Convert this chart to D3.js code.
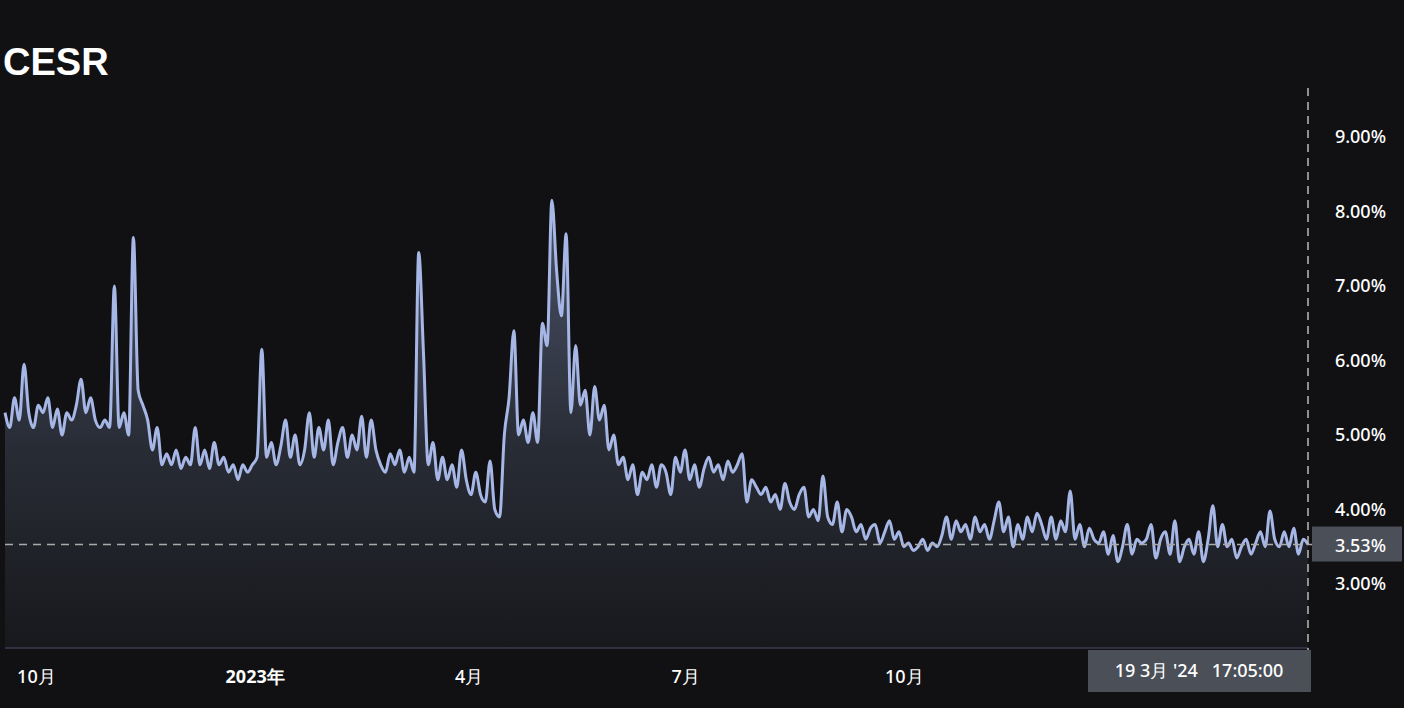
<!DOCTYPE html>
<html><head><meta charset="utf-8">
<script src="https://cdn.jsdelivr.net/npm/d3@7"></script>
<style>body{margin:0;background:#111113;}svg{display:block;}</style>
</head><body>
<svg id="chart" width="1404" height="708"></svg>
<script>
// CESR rate, one value every 2 days, ending 19 Mar 2024
const rates = [
  5.3,5.1,5.5,5.2,5.95,5.3,5.1,5.4,5.3,5.5,
  5.1,5.35,5.0,5.3,5.2,5.4,5.75,5.3,5.5,5.2,
  5.1,5.2,5.1,7.0,5.1,5.3,5.0,7.65,5.6,5.4,
  5.2,4.8,5.1,4.6,4.75,4.6,4.8,4.55,4.7,4.6,
  5.1,4.6,4.8,4.55,4.9,4.6,4.7,4.5,4.6,4.4,
  4.6,4.5,4.6,4.7,6.15,4.7,4.9,4.6,4.85,5.2,
  4.7,5.0,4.6,4.8,5.3,4.7,5.1,4.8,5.2,4.6,
  4.9,5.1,4.7,5.0,4.8,5.25,4.7,5.2,4.8,4.6,
  4.5,4.75,4.6,4.8,4.5,4.7,4.5,7.45,6.1,4.6,
  4.9,4.4,4.7,4.4,4.6,4.3,4.8,4.4,4.2,4.5,
  4.2,4.1,4.65,4.0,3.9,5.0,5.5,6.4,5.0,5.2,
  4.9,5.3,4.9,6.5,6.2,8.15,7.2,6.6,7.7,5.3,
  6.2,5.4,5.6,5.0,5.65,5.2,5.4,4.8,5.0,4.6,
  4.7,4.4,4.6,4.2,4.5,4.4,4.6,4.3,4.6,4.5,
  4.2,4.7,4.5,4.8,4.4,4.6,4.3,4.55,4.7,4.5,
  4.6,4.4,4.65,4.5,4.6,4.75,4.1,4.4,4.3,4.2,
  4.3,4.1,4.2,4.0,4.35,4.1,4.0,4.2,4.3,3.9,
  4.0,3.85,4.45,3.9,3.8,4.1,3.7,4.0,3.9,3.7,
  3.8,3.6,3.75,3.8,3.55,3.7,3.85,3.6,3.7,3.5,
  3.55,3.45,3.5,3.6,3.45,3.55,3.5,3.65,3.9,3.6,
  3.85,3.7,3.8,3.6,3.9,3.7,3.8,3.6,3.85,4.1,
  3.7,3.9,3.5,3.8,3.6,3.9,3.7,3.95,3.8,3.6,
  3.9,3.6,3.85,3.7,4.25,3.6,3.8,3.5,3.75,3.6,
  3.55,3.7,3.4,3.65,3.3,3.5,3.8,3.4,3.6,3.55,
  3.6,3.8,3.35,3.6,3.7,3.4,3.85,3.3,3.5,3.6,
  3.4,3.7,3.3,3.6,4.05,3.5,3.8,3.5,3.6,3.35,
  3.5,3.6,3.4,3.55,3.7,3.5,3.98,3.6,3.5,3.7,
  3.5,3.75,3.4,3.6,3.53
];
const endDate = new Date(2024, 2, 19);
const stepDays = 2;
const yTicks = [3, 4, 5, 6, 7, 8, 9];
const xTicks = [new Date(2022,9,1), new Date(2023,0,1), new Date(2023,3,1), new Date(2023,6,1), new Date(2023,9,1)];
const xTickLabels = ["10月", "2023年", "4月", "7月", "10月"];
const lastValue = 3.53;
const lastLabel = "19 3月 '24   17:05:00";

const data = rates.map((v, i) => ({
  date: d3.timeDay.offset(endDate, -(rates.length - 1 - i) * stepDays),
  value: v
}));

const svg = d3.select("#chart");
const left = 5, right = 1308, bottom = 648;
const font = "Noto Sans, DejaVu Sans, sans-serif";

const x = d3.scaleTime().domain(d3.extent(data, d => d.date)).range([left, right]);
const y = d3.scaleLinear().domain([3, 9]).range([584, 137]);

const grad = svg.append("defs").append("linearGradient").attr("id", "fillGrad")
  .attr("gradientUnits", "userSpaceOnUse").attr("x1", 0).attr("x2", 0).attr("y1", 200).attr("y2", bottom);
grad.append("stop").attr("offset", "0%").attr("stop-color", "#5a6480").attr("stop-opacity", 0.75);
grad.append("stop").attr("offset", "55%").attr("stop-color", "#2b2f39").attr("stop-opacity", 0.9);
grad.append("stop").attr("offset", "100%").attr("stop-color", "#17181c").attr("stop-opacity", 1);

// title
svg.append("text").attr("x", 3).attr("y", 75).text("CESR")
  .attr("fill", "#fff").attr("font-family", "Liberation Sans, Arial, sans-serif")
  .attr("font-weight", "bold").attr("font-size", 38);

// area + line
const area = d3.area().x(d => x(d.date)).y0(bottom).y1(d => y(d.value)).curve(d3.curveMonotoneX);
svg.append("path").datum(data).attr("d", area).attr("fill", "url(#fillGrad)");

const line = d3.line().x(d => x(d.date)).y(d => y(d.value)).curve(d3.curveMonotoneX);
svg.append("path").datum(data).attr("d", line).attr("fill", "none")
  .attr("stroke", "#a6b7e6").attr("stroke-width", 3).attr("stroke-linejoin", "round");

// x baseline
svg.append("line").attr("x1", left).attr("x2", right).attr("y1", bottom).attr("y2", bottom)
  .attr("stroke", "#3a3d52").attr("stroke-width", 1.5);

// x axis
const xAxis = d3.axisBottom(x).tickValues(xTicks).tickSize(0)
  .tickFormat((d, i) => xTickLabels[i]);
const gx = svg.append("g").attr("transform", `translate(0,${bottom})`).call(xAxis);
gx.select(".domain").remove();
gx.selectAll(".tick text").attr("fill", "#fff").attr("font-size", 18).attr("y", 22).attr("dy", "0.71em")
  .attr("font-family", font)
  .attr("font-weight", (d, i) => i === 1 ? "bold" : 500);

// y axis (right)
const yAxis = d3.axisRight(y).tickValues(yTicks).tickSize(0).tickFormat(d => d.toFixed(2) + "%");
const gy = svg.append("g").attr("transform", "translate(1386,0)").call(yAxis);
gy.select(".domain").remove();
gy.selectAll(".tick text").attr("x", 0).attr("text-anchor", "end").attr("fill", "#fff")
  .attr("font-size", 18).attr("font-weight", 500).attr("font-family", font);

// crosshair dashed lines
svg.append("line").attr("x1", right).attr("x2", right).attr("y1", 88).attr("y2", 655)
  .attr("stroke", "#bbb").attr("stroke-width", 1.5).attr("stroke-dasharray", "8,6");
svg.append("line").attr("x1", left).attr("x2", right + 8).attr("y1", y(lastValue)).attr("y2", y(lastValue))
  .attr("stroke", "#aaa").attr("stroke-width", 1.3).attr("stroke-dasharray", "8,6");

// current value label
svg.append("rect").attr("x", 1312).attr("y", y(lastValue) - 18).attr("width", 90).attr("height", 35)
  .attr("fill", "#4b4f58");
svg.append("text").attr("x", 1386).attr("y", y(lastValue) + 7).attr("text-anchor", "end")
  .attr("fill", "#fff").attr("font-size", 18).attr("font-weight", 500).attr("font-family", font)
  .text(lastValue.toFixed(2) + "%");

// date label
svg.append("rect").attr("x", 1088).attr("y", 650).attr("width", 223).attr("height", 42).attr("fill", "#4b4f58");
svg.append("text").attr("x", 1199).attr("y", 677).attr("text-anchor", "middle").attr("xml:space", "preserve")
  .attr("fill", "#fff").attr("font-size", 18).attr("font-weight", 500).attr("font-family", font)
  .text(lastLabel);
</script>
</body></html>
